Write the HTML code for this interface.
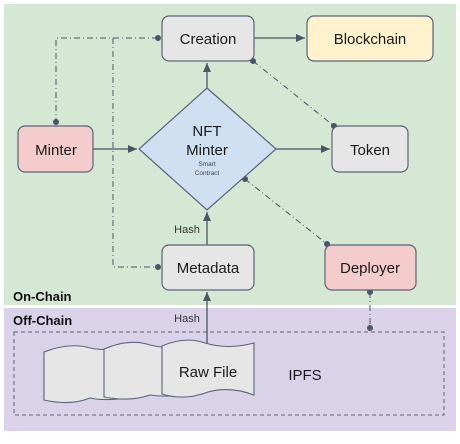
<!DOCTYPE html>
<html><head><style>
body{margin:0;width:460px;height:439px;background:#fff;overflow:hidden}
svg text{font-family:"Liberation Sans",sans-serif}
</style></head><body>
<svg width="460" height="439" viewBox="0 0 460 439" xmlns="http://www.w3.org/2000/svg">
<defs>
<marker id="a" markerWidth="10" markerHeight="8" refX="9" refY="4" orient="auto" markerUnits="userSpaceOnUse">
<path d="M0,0 L9,4 L0,8 z" fill="#4a5568"/></marker>
</defs>
<rect x="4" y="4" width="452" height="301" fill="#d5e8d4"/>
<rect x="4" y="308" width="452" height="123" fill="#dad2e8"/>
<g stroke="#4a5568" stroke-width="1.3" fill="none">
<line x1="254" y1="38" x2="305" y2="38" marker-end="url(#a)"/>
<line x1="207" y1="88" x2="207" y2="63" marker-end="url(#a)"/>
<line x1="93" y1="149" x2="137" y2="149" marker-end="url(#a)"/>
<line x1="276" y1="149" x2="330" y2="149" marker-end="url(#a)"/>
<line x1="207" y1="245" x2="207" y2="212" marker-end="url(#a)"/>
<line x1="207" y1="348" x2="207" y2="292" marker-end="url(#a)"/>
<g stroke-dasharray="6,3,1,3" stroke-width="1">
<polyline points="158,38 56,38 56,122"/>
<polyline points="113,38 113,267 158,267"/>
<line x1="253" y1="61" x2="334" y2="126"/>
<line x1="245" y1="179" x2="327" y2="244"/>
<line x1="370" y1="292" x2="370" y2="328"/>
</g>
</g>
<g fill="#4a5568">
<circle cx="158" cy="38" r="3"/><circle cx="56" cy="122" r="3"/><circle cx="158" cy="267" r="3"/>
<circle cx="253" cy="61" r="3"/><circle cx="334" cy="126" r="3"/><circle cx="245" cy="179" r="3"/>
<circle cx="327" cy="244" r="3"/><circle cx="370" cy="292" r="3"/><circle cx="370" cy="328" r="3"/>
</g>
<g stroke="#5a6478" stroke-width="1.2">
<rect x="162" y="16" width="92" height="45" rx="7" fill="#e6e6e6"/>
<rect x="307" y="16" width="126" height="45" rx="7" fill="#fff2cc"/>
<rect x="18" y="126" width="75" height="46" rx="7" fill="#f4cccc"/>
<rect x="332" y="126" width="76" height="46" rx="7" fill="#e6e6e6"/>
<polygon points="207,88 276,149 207,210 139,149" fill="#cfe0f3"/>
<rect x="162" y="245" width="92" height="45" rx="7" fill="#e6e6e6"/>
<rect x="325" y="245" width="91" height="45" rx="7" fill="#f4cccc"/>
</g>
<rect x="14" y="332" width="430" height="83" fill="none" stroke="#5a6478" stroke-width="1" stroke-dasharray="4,3"/>
<g stroke="#5a6478" stroke-width="1.1" fill="#e6e6e6">
<path d="M44,352 Q70,342 90,348 Q110,352 135,346 L135,396 Q110,402 90,398 Q70,406 44,400 z"/>
<path d="M104,349 Q130,338 150,345 Q170,350 190,344 L190,393 Q170,398 150,395 Q130,402 104,397 z"/>
<path d="M162,346 Q185,336 205,343 Q228,350 254,343 L254,395 Q230,386 208,392 Q185,401 162,394 z"/>
</g>
<g fill="#1a1a1a" font-size="15" text-anchor="middle">
<text x="208" y="44">Creation</text>
<text x="370" y="44">Blockchain</text>
<text x="56" y="155">Minter</text>
<text x="370" y="155">Token</text>
<text x="207" y="136">NFT</text>
<text x="207" y="155">Minter</text>
<text x="208" y="273">Metadata</text>
<text x="370" y="273">Deployer</text>
<text x="208" y="377">Raw File</text>
<text x="305" y="380">IPFS</text>
</g>
<g fill="#444" font-size="6.5" text-anchor="middle"><text x="207" y="166">Smart</text><text x="207" y="175">Contract</text></g>
<g fill="#333" font-size="11" text-anchor="middle"><text x="187" y="233">Hash</text><text x="187" y="322">Hash</text></g>
<g fill="#111" font-size="13" font-weight="bold"><text x="13" y="301">On-Chain</text><text x="13" y="325">Off-Chain</text></g>
</svg>
</body></html>
